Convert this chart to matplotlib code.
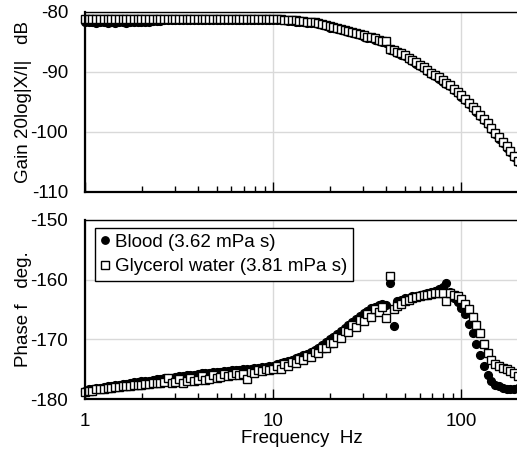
import numpy as np
import matplotlib.pyplot as plt
from matplotlib.ticker import LogLocator, NullFormatter, FixedLocator

plt.rcParams['font.family'] = ['Liberation Sans', 'DejaVu Sans']
plt.rcParams['font.size'] = 13.5
plt.rcParams['axes.unicode_minus'] = False

# Measurement frequencies (Hz)
freq = [
    1.000, 1.047, 1.096, 1.148, 1.202, 1.259, 1.318, 1.380, 1.445, 1.514,
    1.585, 1.660, 1.738, 1.820, 1.905, 1.995, 2.089, 2.188, 2.291, 2.399,
    2.512, 2.630, 2.754, 2.884, 3.020, 3.162, 3.311, 3.467, 3.631, 3.802,
    3.981, 4.169, 4.365, 4.571, 4.786, 5.012, 5.248, 5.495, 5.754, 6.026,
    6.310, 6.607, 6.918, 7.244, 7.586, 7.943, 8.318, 8.710, 9.120, 9.550,
    10.00, 10.47, 10.96, 11.48, 12.02, 12.59, 13.18, 13.80, 14.45, 15.14,
    15.85, 16.60, 17.38, 18.20, 19.05, 19.95, 20.89, 21.88, 22.91, 23.99,
    25.12, 26.30, 27.54, 28.84, 30.20, 31.62, 33.11, 34.67, 36.31, 38.02,
    39.81, 41.69, 43.65, 45.71, 47.86, 50.12, 52.48, 54.95, 57.54, 60.26,
    63.10, 66.07, 69.18, 72.44, 75.86, 79.43, 83.18, 87.10, 91.20, 95.50,
    100.0, 104.7, 109.6, 114.8, 120.2, 125.9, 131.8, 138.0, 144.5, 151.4,
    158.5, 166.0, 173.8, 182.0, 190.5, 199.5,
]

# Gain 20log|X/I| (dB)
gain_blood = [
    -81.6, -81.7, -81.7, -81.8, -81.7, -81.7, -81.8, -81.7, -81.8, -81.7,
    -81.7, -81.8, -81.7, -81.7, -81.6, -81.7, -81.6, -81.6, -81.5, -81.5,
    -81.5, -81.4, -81.4, -81.3, -81.4, -81.4, -81.3, -81.4, -81.4, -81.3,
    -81.4, -81.3, -81.4, -81.4, -81.3, -81.4, -81.3, -81.4, -81.4, -81.3,
    -81.4, -81.3, -81.4, -81.3, -81.4, -81.3, -81.4, -81.3, -81.3, -81.4,
    -81.3, -81.3, -81.4, -81.4, -81.5, -81.5, -81.6, -81.6, -81.7, -81.8,
    -81.8, -81.9, -82.0, -82.2, -82.4, -82.6, -82.7, -82.9, -83.0, -83.2,
    -83.3, -83.5, -83.7, -83.9, -84.1, -84.3, -84.4, -84.6, -84.8, -85.0,
    -85.1, -86.3, -86.5, -86.8, -87.1, -87.4, -87.8, -88.2, -88.6, -89.0,
    -89.4, -89.8, -90.3, -90.7, -91.1, -91.6, -92.0, -92.4, -93.0, -93.5,
    -94.1, -94.7, -95.3, -96.0, -96.6, -97.3, -98.0, -98.7, -99.5, -100.3,
    -101.1, -101.9, -102.6, -103.4, -104.2, -105.0,
]
gain_glycerol = [
    -81.2, -81.1, -81.2, -81.2, -81.1, -81.2, -81.1, -81.2, -81.2, -81.1,
    -81.2, -81.2, -81.1, -81.2, -81.1, -81.2, -81.2, -81.1, -81.2, -81.2,
    -81.1, -81.2, -81.2, -81.1, -81.2, -81.1, -81.2, -81.2, -81.1, -81.2,
    -81.2, -81.1, -81.2, -81.2, -81.1, -81.2, -81.1, -81.2, -81.2, -81.1,
    -81.2, -81.1, -81.2, -81.2, -81.1, -81.2, -81.1, -81.2, -81.1, -81.2,
    -81.1, -81.2, -81.2, -81.3, -81.3, -81.4, -81.4, -81.5, -81.5, -81.6,
    -81.7, -81.7, -81.8, -82.0, -82.2, -82.4, -82.5, -82.7, -82.8, -83.0,
    -83.1, -83.3, -83.5, -83.7, -83.9, -84.1, -84.2, -84.4, -84.6, -84.8,
    -84.9, -86.1, -86.3, -86.6, -86.9, -87.2, -87.6, -88.0, -88.4, -88.8,
    -89.2, -89.6, -90.1, -90.5, -90.9, -91.4, -91.8, -92.2, -92.8, -93.3,
    -93.9, -94.5, -95.1, -95.8, -96.4, -97.1, -97.8, -98.5, -99.3, -100.1,
    -100.9, -101.7, -102.4, -103.2, -104.0, -104.8,
]

# Phase (deg)
phase_blood = [
    -178.6, -178.4, -178.3, -178.2, -178.1, -178.0, -177.9, -177.9, -177.7, -177.6,
    -177.5, -177.5, -177.3, -177.2, -177.2, -177.0, -176.9, -176.9, -176.8, -176.6,
    -176.6, -176.5, -176.4, -176.4, -176.3, -176.2, -176.2, -176.0, -175.9, -175.9,
    -175.8, -175.7, -175.7, -175.6, -175.5, -175.5, -175.4, -175.3, -175.3, -175.2,
    -175.1, -175.1, -175.0, -175.0, -174.9, -174.8, -174.8, -174.7, -174.6, -174.5,
    -174.4, -174.2, -174.0, -173.8, -173.6, -173.4, -173.2, -172.9, -172.6, -172.4,
    -172.1, -171.8, -171.4, -171.0, -170.5, -170.0, -169.6, -169.1, -168.6, -168.1,
    -167.6, -167.1, -166.6, -166.1, -165.6, -165.2, -164.8, -164.5, -164.3, -164.0,
    -164.2, -160.5, -167.8, -163.6, -163.4, -163.1, -163.0, -162.8, -162.7, -162.5,
    -162.4, -162.2, -162.1, -161.9, -161.6, -161.3, -160.6, -162.0, -163.0, -163.8,
    -164.8, -165.8, -167.4, -169.0, -170.8, -172.6, -174.5, -175.9, -176.9, -177.6,
    -177.9, -178.2, -178.4, -178.4, -178.3, -178.1,
]
phase_glycerol = [
    -178.8, -178.6, -178.6, -178.4, -178.4, -178.3, -178.2, -178.2, -178.0, -178.0,
    -177.9, -177.8, -177.8, -177.7, -177.6, -177.6, -177.5, -177.5, -177.4, -177.3,
    -177.3, -177.2, -176.5, -177.4, -177.2, -176.6, -177.3, -177.0, -176.4, -177.0,
    -176.8, -176.2, -176.8, -176.6, -176.0, -176.5, -176.3, -175.8, -176.2, -176.0,
    -175.6, -175.9, -175.8, -176.7, -175.5, -175.6, -175.2, -175.3, -175.0, -175.2,
    -175.0, -174.4, -174.9, -174.2, -174.5, -173.8, -174.0, -173.3, -173.5, -172.8,
    -172.9, -172.2, -172.3, -171.5, -171.5, -170.6, -170.6, -169.6, -169.7, -168.6,
    -168.8, -167.6, -167.9, -166.7, -166.9, -165.8, -166.2, -165.0, -165.4, -164.5,
    -166.5, -159.4, -165.0, -164.4, -164.0, -163.6, -163.4, -163.1, -162.9, -162.7,
    -162.6, -162.5, -162.4, -162.3, -162.2, -162.2, -163.6, -162.3, -162.5, -162.8,
    -163.3, -164.0, -165.0, -166.2, -167.6, -169.0, -170.8, -172.3, -173.4, -174.1,
    -174.5, -174.8, -175.0, -175.3, -175.7, -176.1,
]

labels = ['Blood (3.62 mPa s)', 'Glycerol water (3.81 mPa s)']
x_ticks = [1, 10, 100]
gain_ticks = [-80, -90, -100, -110]
phase_ticks = [-150, -160, -170, -180]

W, H = 517, 449
fig = plt.figure(figsize=(W / 100, H / 100), dpi=100)
ax1 = fig.add_axes([85 / W, 257 / H, 433 / W, 180 / H])
ax2 = fig.add_axes([85 / W, 50 / H, 433 / W, 179 / H])

for ax in (ax1, ax2):
    ax.set_xscale('log')
    ax.set_xlim(1, 200)
    ax.xaxis.set_major_locator(FixedLocator(x_ticks))
    ax.xaxis.set_minor_locator(LogLocator(base=10, subs=np.arange(2, 10)))
    ax.xaxis.set_minor_formatter(NullFormatter())
    ax.grid(True, which='major', color='#d9d9d9', lw=1)
    ax.set_axisbelow(True)
    ax.tick_params(axis='x', which='major', direction='in', length=7, width=1, pad=10)
    ax.tick_params(axis='x', which='minor', direction='in', length=4, width=1)
    ax.tick_params(axis='y', length=0, pad=12)
    ax.spines['left'].set_linewidth(1.6)
    ax.spines['bottom'].set_linewidth(1.6)
    ax.spines['top'].set_linewidth(1.0)
    ax.spines['right'].set_visible(False)

mk = dict(ms=5.6, ls='none', clip_on=False)

ax1.plot(freq, gain_blood, 'o', color='black', **mk)
ax1.plot(freq, gain_glycerol, 's', mfc='white', mec='black', mew=1, **mk)
ax1.set_ylim(-110, -80)
ax1.set_yticks(gain_ticks)
ax1.set_xticklabels([])
ax1.set_ylabel('Gain 20log|X/I|   dB')
ax1.yaxis.set_label_coords(-0.122, 0.5)

ax2.plot(freq, phase_blood, 'o', color='black', label=labels[0], **mk)
ax2.plot(freq, phase_glycerol, 's', mfc='white', mec='black', mew=1,
         label=labels[1], **mk)
ax2.set_ylim(-180, -150)
ax2.set_yticks(phase_ticks)
ax2.set_xticklabels([str(t) for t in x_ticks])
ax2.set_ylabel('Phase f   deg.')
ax2.yaxis.set_label_coords(-0.122, 0.5)
ax2.set_xlabel('Frequency  Hz')
ax2.xaxis.set_label_coords(0.5, -0.175)

leg = ax2.legend(loc='upper left', bbox_to_anchor=(0.023, 0.955),
                 borderaxespad=0, fancybox=False, framealpha=1,
                 edgecolor='black', handlelength=0.5, handletextpad=0.25,
                 borderpad=0.3, labelspacing=0.4, markerscale=0.95)
leg.get_frame().set_linewidth(1.0)

fig.savefig('out.png', dpi=100)
